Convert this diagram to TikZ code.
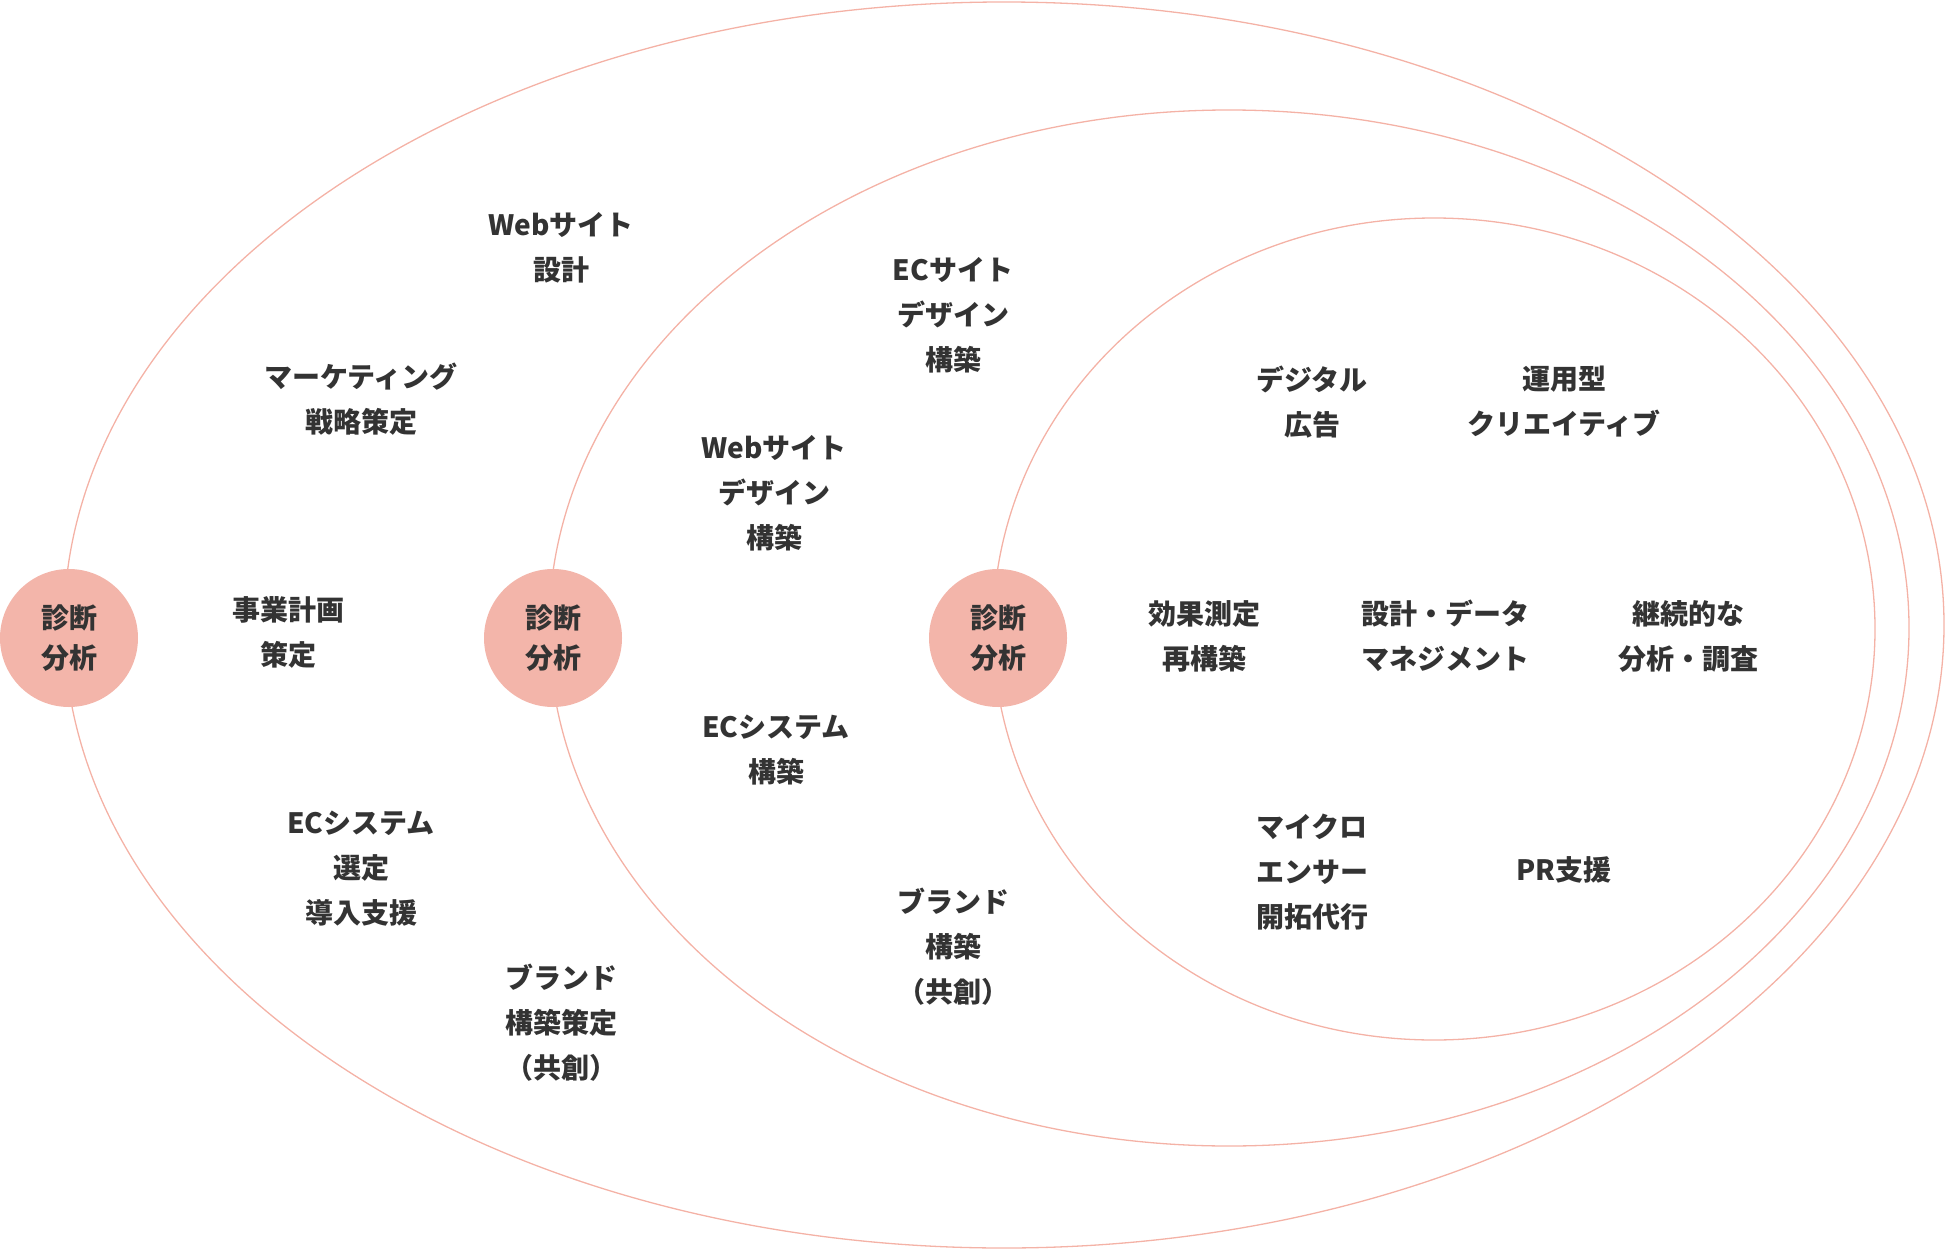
\documentclass[tikz,border=0pt]{standalone}
\usepackage{fontspec}
\setmainfont{Noto Sans CJK JP}
\definecolor{ringline}{HTML}{F4B2A6}
\definecolor{ringfill}{HTML}{F3B5AA}
\definecolor{txtgray}{HTML}{333333}
\begin{document}
\begin{tikzpicture}[x=1pt,y=-1pt,ring/.style={draw=ringline,line width=1.3pt},diag/.style={circle,fill=ringfill,minimum size=138pt,inner sep=0pt,text=txtgray,align=center,font=\fontsize{28}{40}\selectfont\bfseries},item/.style={text=txtgray,align=center,font=\fontsize{28}{45}\selectfont\bfseries}]
\useasboundingbox (0,0) rectangle (1945,1249);
% three rings
\draw[ring] (1004,625) ellipse [x radius=940pt,y radius=623pt];
\draw[ring] (1229,628) ellipse [x radius=680pt,y radius=518pt];
\draw[ring] (1434,629) ellipse [x radius=441pt,y radius=411pt];
\foreach \cx [count=\i] in {69,553,998} {
   \node[diag] (diag\i) at (\cx,638) {診断\\分析};
}
\foreach \px/\py/\txt [count=\i] in %
{561/248/{Webサイト\\設計},361/399/{マーケティング\\戦略策定},288/632/{事業計画\\策定},
 361/869/{ECシステム\\選定\\導入支援},561/1023/{ブランド\\構築策定\\（共創）},
 953/315/{ECサイト\\デザイン\\構築},774/493/{Webサイト\\デザイン\\構築},776/750/{ECシステム\\構築},
 953/947/{ブランド\\構築\\（共創）},1312/402/{デジタル\\広告},1564/402/{運用型\\クリエイティブ},
 1204/636/{効果測定\\再構築},1445/636/{設計・データ\\マネジメント},1688/636/{継続的な\\分析・調査},
 1312/872/{マイクロ\\エンサー\\開拓代行},1564/870/{PR支援}} {
   \node[item] (item\i) at (\px,\py) {\txt};
}
\end{tikzpicture}
\end{document}
